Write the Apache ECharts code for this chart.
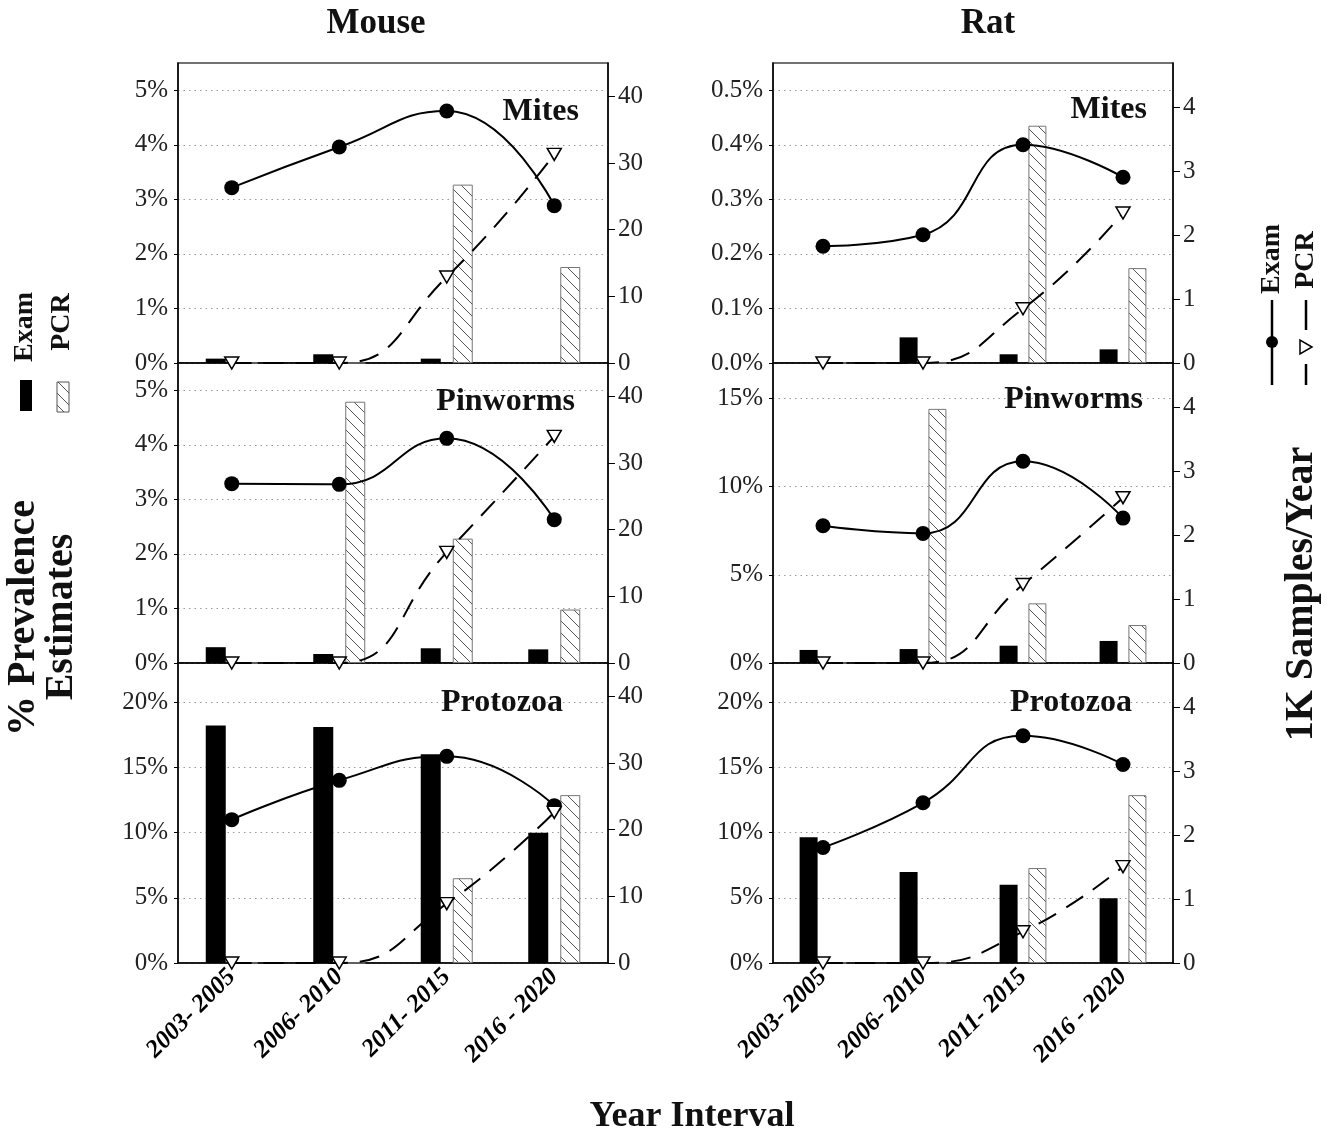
<!DOCTYPE html>
<html>
<head>
<meta charset="utf-8">
<script src="https://cdn.jsdelivr.net/npm/echarts@6/dist/echarts.min.js"></script>
<style>
html,body{margin:0;padding:0;background:#fff;}
#chart{width:1330px;height:1136px;}
</style>
</head>
<body>
<div id="chart"></div>
<script>
// ---------------- DATA ----------------
const categories = ['2003- 2005', '2006- 2010', '2011- 2015', '2016 - 2020'];

// Mouse – Mites
const mouseMitesExamPrev = [0.08, 0.16, 0.08, 0];
const mouseMitesPcrPrev = [0, 0, 3.27, 1.76];
const mouseMitesExamSamples = [26.3, 32.4, 37.8, 23.6];
const mouseMitesPcrSamples = [0, 0, 12.9, 31.3];
// Rat – Mites
const ratMitesExamPrev = [0, 0.047, 0.016, 0.025];
const ratMitesPcrPrev = [0, 0, 0.435, 0.174];
const ratMitesExamSamples = [1.83, 2.01, 3.42, 2.91];
const ratMitesPcrSamples = [0, 0, 0.85, 2.35];
// Mouse – Pinworms
const mousePinExamPrev = [0.29, 0.165, 0.27, 0.25];
const mousePinPcrPrev = [0, 4.79, 2.28, 0.98];
const mousePinExamSamples = [26.9, 26.8, 33.7, 21.5];
const mousePinPcrSamples = [0, 0, 16.6, 34.0];
// Rat – Pinworms
const ratPinExamPrev = [0.74, 0.79, 0.98, 1.25];
const ratPinPcrPrev = [0, 14.4, 3.38, 2.15];
const ratPinExamSamples = [2.15, 2.03, 3.16, 2.27];
const ratPinPcrSamples = [0, 0, 1.23, 2.59];
// Mouse – Protozoa
const mouseProtoExamPrev = [18.2, 18.1, 16.0, 9.98];
const mouseProtoPcrPrev = [0, 0, 6.5, 12.87];
const mouseProtoExamSamples = [21.5, 27.4, 31.0, 23.6];
const mouseProtoPcrSamples = [0, 0, 8.9, 22.6];
// Rat – Protozoa
const ratProtoExamPrev = [9.64, 6.97, 6.0, 4.97];
const ratProtoPcrPrev = [0, 0, 7.28, 12.87];
const ratProtoExamSamples = [1.81, 2.51, 3.56, 3.11];
const ratProtoPcrSamples = [0, 0, 0.49, 1.51];

// Tick labels
const mitesMouseLeftTicks = [0, 1, 2, 3, 4, 5];
const mitesRatLeftTicks = [0, 0.1, 0.2, 0.3, 0.4, 0.5];
const pinMouseLeftTicks = [0, 1, 2, 3, 4, 5];
const pinRatLeftTicks = [0, 5, 10, 15];
const protoLeftTicks = [0, 5, 10, 15, 20];
const mouseRightTicks = [0, 10, 20, 30, 40];
const ratRightTicks = [0, 1, 2, 3, 4];

// ---------------- LAYOUT / STYLE ----------------
const FONT = 'Liberation Serif';
const colX = [{left: 178, width: 430, bw: 20}, {left: 773, width: 400, bw: 18}];
const rowY = [63, 363, 663];
const PH = 300;

const panels = [
  {row:0,col:0,title:'Mites',tx:579,ty:112,ex:mouseMitesExamPrev,pc:mouseMitesPcrPrev,es:mouseMitesExamSamples,ps:mouseMitesPcrSamples,lmax:5.5,lint:1,lt:mitesMouseLeftTicks,dec:0,rmax:45,rint:10,rt:mouseRightTicks},
  {row:0,col:1,title:'Mites',tx:1147,ty:110,ex:ratMitesExamPrev,pc:ratMitesPcrPrev,es:ratMitesExamSamples,ps:ratMitesPcrSamples,lmax:0.55,lint:0.1,lt:mitesRatLeftTicks,dec:1,rmax:4.7,rint:1,rt:ratRightTicks},
  {row:1,col:0,title:'Pinworms',tx:575,ty:402,ex:mousePinExamPrev,pc:mousePinPcrPrev,es:mousePinExamSamples,ps:mousePinPcrSamples,lmax:5.5,lint:1,lt:pinMouseLeftTicks,dec:0,rmax:45,rint:10,rt:mouseRightTicks},
  {row:1,col:1,title:'Pinworms',tx:1143,ty:400,ex:ratPinExamPrev,pc:ratPinPcrPrev,es:ratPinExamSamples,ps:ratPinPcrSamples,lmax:17,lint:5,lt:pinRatLeftTicks,dec:0,rmax:4.7,rint:1,rt:ratRightTicks},
  {row:2,col:0,title:'Protozoa',tx:563,ty:703,ex:mouseProtoExamPrev,pc:mouseProtoPcrPrev,es:mouseProtoExamSamples,ps:mouseProtoPcrSamples,lmax:23,lint:5,lt:protoLeftTicks,dec:0,rmax:45,rint:10,rt:mouseRightTicks},
  {row:2,col:1,title:'Protozoa',tx:1132,ty:703,ex:ratProtoExamPrev,pc:ratProtoPcrPrev,es:ratProtoExamSamples,ps:ratProtoPcrSamples,lmax:23,lint:5,lt:protoLeftTicks,dec:0,rmax:4.7,rint:1,rt:ratRightTicks}
];

function makeHatch() {
  const s = 12;
  const c = document.createElement('canvas');
  c.width = s; c.height = s;
  const g = c.getContext('2d');
  g.fillStyle = '#fff'; g.fillRect(0, 0, s, s);
  g.strokeStyle = '#555'; g.lineWidth = 1;
  g.beginPath();
  g.moveTo(0, 0); g.lineTo(s, s);
  g.moveTo(-s, 0); g.lineTo(0, s);
  g.moveTo(0, -s); g.lineTo(2 * s, s);
  g.stroke();
  return c;
}
const hatch = makeHatch();

function isTick(v, arr) { return arr.some(t => Math.abs(t - v) < 1e-9); }

const grids = [], xAxes = [], yAxes = [], series = [], graphics = [];

panels.forEach((p, i) => {
  const cx = colX[p.col];
  grids.push({left: cx.left, top: rowY[p.row], width: cx.width, height: PH,
    show: true, borderColor: '#444', borderWidth: 1.5, backgroundColor: 'transparent'});
  const bottom = p.row === 2;
  xAxes.push({type: 'category', gridIndex: i, data: categories, boundaryGap: true,
    axisLine: {lineStyle: {color: '#000', width: 1.5}},
    axisTick: {alignWithLabel: true, length: 5, lineStyle: {color: '#000', width: 1.2}},
    axisLabel: {show: bottom, rotate: 45, margin: 10, fontFamily: FONT, fontSize: 25,
      fontWeight: 'bold', fontStyle: 'italic', color: '#000', interval: 0},
    splitLine: {show: false}});
  const lt = p.lt, rt = p.rt, dec = p.dec;
  yAxes.push({type: 'value', gridIndex: i, position: 'left', min: 0, max: p.lmax, interval: p.lint,
    axisLine: {show: true, lineStyle: {color: '#000', width: 1.5}},
    axisTick: {show: true, length: 4, customValues: lt, lineStyle: {color: '#000'}},
    axisLabel: {customValues: lt, margin: 10, fontFamily: FONT, fontSize: 25, color: '#222',
      formatter: v => isTick(v, lt) ? v.toFixed(dec) + '%' : ''},
    splitLine: {show: true, lineStyle: {type: [1.5, 4], color: '#9a9a9a', width: 1}}});
  yAxes.push({type: 'value', gridIndex: i, position: 'right', min: 0, max: p.rmax, interval: p.rint,
    axisLine: {show: true, lineStyle: {color: '#000', width: 1.5}},
    axisTick: {show: true, length: 7, customValues: rt, lineStyle: {color: '#000'}},
    axisLabel: {customValues: rt, margin: 10, fontFamily: FONT, fontSize: 25, color: '#222',
      formatter: v => isTick(v, rt) ? String(v) : ''},
    splitLine: {show: false}});
  series.push({type: 'bar', name: 'Exam', xAxisIndex: i, yAxisIndex: 2 * i, data: p.ex,
    barWidth: cx.bw, itemStyle: {color: '#000'}, z: 2});
  series.push({type: 'bar', name: 'PCR', xAxisIndex: i, yAxisIndex: 2 * i, data: p.pc,
    barWidth: cx.bw, barGap: '60%',
    itemStyle: {color: {image: hatch, repeat: 'repeat'}, borderColor: '#777', borderWidth: 1}, z: 2});
  series.push({type: 'line', name: 'Exam samples', xAxisIndex: i, yAxisIndex: 2 * i + 1, data: p.es,
    smooth: 0.5, symbol: 'circle', symbolSize: 15, showAllSymbol: true,
    lineStyle: {color: '#000', width: 2}, itemStyle: {color: '#000'}, z: 4});
  series.push({type: 'line', name: 'PCR samples', xAxisIndex: i, yAxisIndex: 2 * i + 1, data: p.ps,
    smooth: 0.5, symbol: 'triangle', symbolRotate: 180, symbolSize: [14, 12], showAllSymbol: true,
    lineStyle: {color: '#000', width: 2, type: [20, 12]},
    itemStyle: {color: '#fff', borderColor: '#000', borderWidth: 1.5}, z: 5});
  graphics.push({type: 'text', x: p.tx, y: p.ty, z: 10,
    style: {text: p.title, font: 'bold 32px "' + FONT + '"', fill: '#111',
      textAlign: 'right', textVerticalAlign: 'middle'}});
});

// Titles and side annotations
const boldFont = sz => 'bold ' + sz + 'px "' + FONT + '"';
const vtext = (txt, x, y, sz) => ({type: 'text', x: x, y: y, rotation: Math.PI / 2,
  style: {text: txt, font: boldFont(sz), fill: '#111', textAlign: 'center', textVerticalAlign: 'middle'}});
graphics.push(
  {type: 'text', x: 376, y: 24, style: {text: 'Mouse', font: boldFont(35), fill: '#111', textAlign: 'center', textVerticalAlign: 'middle'}},
  {type: 'text', x: 988, y: 24, style: {text: 'Rat', font: boldFont(35), fill: '#111', textAlign: 'center', textVerticalAlign: 'middle'}},
  {type: 'text', x: 692, y: 1117, style: {text: 'Year Interval', font: boldFont(36), fill: '#111', textAlign: 'center', textVerticalAlign: 'middle'}},
  // left legend + title
  vtext('% Prevalence', 24, 618, 40),
  vtext('Estimates', 62, 617, 40),
  vtext('Exam', 25, 327, 28),
  vtext('PCR', 62, 322, 28),
  {type: 'rect', shape: {x: 20, y: 380, width: 12, height: 31}, style: {fill: '#000'}},
  {type: 'rect', shape: {x: 57, y: 382, width: 12, height: 30}, style: {fill: {image: hatch, repeat: 'repeat'}, stroke: '#555', lineWidth: 1}},
  // right legend + title
  vtext('Exam', 1272, 259, 28),
  vtext('PCR', 1306, 260, 28),
  {type: 'line', shape: {x1: 1272, y1: 300, x2: 1272, y2: 385}, style: {stroke: '#000', lineWidth: 2.5}},
  {type: 'circle', shape: {cx: 1272, cy: 342, r: 6}, style: {fill: '#000'}},
  {type: 'line', shape: {x1: 1306, y1: 300, x2: 1306, y2: 330}, style: {stroke: '#000', lineWidth: 2.5}},
  {type: 'line', shape: {x1: 1306, y1: 364, x2: 1306, y2: 385}, style: {stroke: '#000', lineWidth: 2.5}},
  {type: 'polygon', shape: {points: [[1300, 340], [1300, 354], [1312, 347]]}, style: {fill: '#fff', stroke: '#000', lineWidth: 1.5}},
  vtext('1K Samples/Year', 1302, 594, 40)
);

const chart = echarts.init(document.getElementById('chart'), null, {renderer: 'canvas'});
chart.setOption({
  animation: false,
  backgroundColor: '#fff',
  textStyle: {fontFamily: FONT},
  grid: grids,
  xAxis: xAxes,
  yAxis: yAxes,
  series: series,
  graphic: graphics
});
</script>
</body>
</html>
